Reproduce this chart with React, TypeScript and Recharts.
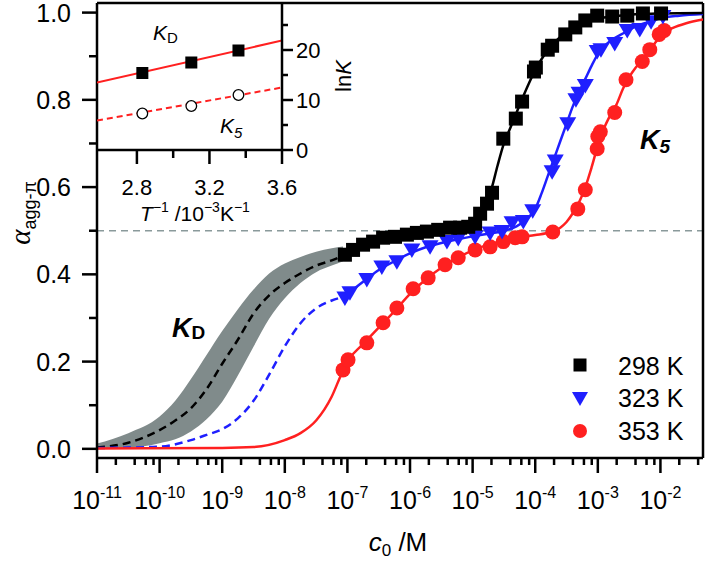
import React from 'react';
import {
  ComposedChart, Line, Scatter, Area, XAxis, YAxis, ReferenceLine,
} from 'recharts';

// x values are log10(c0 / M), y values are alpha_agg-pi
const black298: [number, number][] = [
  [-7.04, 0.445], [-6.91, 0.456], [-6.75, 0.468], [-6.59, 0.475], [-6.43, 0.484], [-6.24, 0.486],
  [-6.05, 0.491], [-5.89, 0.495], [-5.73, 0.498], [-5.55, 0.502], [-5.36, 0.507], [-5.2, 0.507],
  [-5.07, 0.509], [-4.96, 0.516], [-4.88, 0.539], [-4.77, 0.562], [-4.69, 0.587], [-4.51, 0.711],
  [-4.31, 0.757], [-4.21, 0.796], [-4.02, 0.865], [-3.99, 0.874], [-3.8, 0.915], [-3.73, 0.924],
  [-3.52, 0.95], [-3.36, 0.966], [-3.2, 0.982], [-3.01, 0.993], [-2.77, 0.991], [-2.53, 0.993],
  [-2.28, 0.998], [-1.99, 0.998],
];
const blue323: [number, number][] = [
  [-7.04, 0.346], [-6.96, 0.358], [-6.69, 0.388], [-6.45, 0.417], [-6.21, 0.429], [-5.97, 0.456],
  [-5.68, 0.463], [-5.41, 0.475], [-5.23, 0.482], [-4.96, 0.486], [-4.72, 0.495], [-4.53, 0.498],
  [-4.37, 0.518], [-4.19, 0.521], [-4.04, 0.546], [-3.73, 0.635], [-3.68, 0.66], [-3.48, 0.745],
  [-3.35, 0.8], [-3.3, 0.815], [-3.2, 0.833], [-3.01, 0.911], [-2.95, 0.915], [-2.73, 0.929],
  [-2.53, 0.959], [-2.33, 0.961], [-2.15, 0.979], [-1.96, 0.991],
];
const red353: [number, number][] = [
  [-7.07, 0.181], [-6.99, 0.204], [-6.69, 0.243], [-6.43, 0.289], [-6.21, 0.323], [-5.95, 0.367],
  [-5.71, 0.392], [-5.44, 0.422], [-5.23, 0.438], [-4.96, 0.456], [-4.72, 0.463], [-4.51, 0.475],
  [-4.32, 0.484], [-4.21, 0.486], [-3.72, 0.497], [-3.32, 0.55], [-3.2, 0.594], [-3.01, 0.688],
  [-3.0, 0.716], [-2.96, 0.727], [-2.73, 0.771], [-2.55, 0.846], [-2.29, 0.888], [-2.17, 0.915],
  [-2.02, 0.95], [-1.94, 0.959],
];

// fitted curves
const blackFitDashed: [number, number][] = [
  [-11, 0.003], [-10.5, 0.014], [-10, 0.043], [-9.75, 0.065], [-9.5, 0.093], [-9.25, 0.137],
  [-9, 0.195], [-8.75, 0.25], [-8.5, 0.31], [-8.25, 0.352], [-8, 0.38], [-7.75, 0.402],
  [-7.5, 0.42], [-7.25, 0.432], [-7.07, 0.443],
];
const blackFitSolid: [number, number][] = [
  [-7.07, 0.443], [-6.75, 0.466], [-6.5, 0.477], [-6.25, 0.485], [-6, 0.492], [-5.75, 0.497],
  [-5.5, 0.502], [-5.25, 0.506], [-5.1, 0.509], [-5, 0.513], [-4.9, 0.525], [-4.8, 0.553],
  [-4.7, 0.595], [-4.6, 0.65], [-4.5, 0.7], [-4.4, 0.735], [-4.3, 0.77], [-4.2, 0.805],
  [-4.1, 0.838], [-4, 0.868], [-3.9, 0.893], [-3.8, 0.913], [-3.7, 0.93], [-3.6, 0.944],
  [-3.5, 0.955], [-3.4, 0.965], [-3.2, 0.978], [-3, 0.986], [-2.7, 0.992], [-2.4, 0.996],
  [-2, 0.998], [-1.32, 0.999],
];
const blueFitDashed: [number, number][] = [
  [-11, 0.002], [-10.5, 0.003], [-10, 0.005], [-9.5, 0.02], [-9.25, 0.032], [-9, 0.045],
  [-8.75, 0.07], [-8.5, 0.11], [-8.25, 0.17], [-8, 0.235], [-7.75, 0.288], [-7.5, 0.322],
  [-7.25, 0.34], [-7.05, 0.349],
];
const blueFitSolid: [number, number][] = [
  [-7.05, 0.349], [-6.75, 0.383], [-6.5, 0.41], [-6.25, 0.43], [-6, 0.448], [-5.75, 0.462],
  [-5.5, 0.472], [-5.25, 0.48], [-5, 0.487], [-4.75, 0.493], [-4.5, 0.5], [-4.3, 0.51],
  [-4.15, 0.525], [-4, 0.55], [-3.9, 0.585], [-3.8, 0.625], [-3.7, 0.665], [-3.6, 0.705],
  [-3.5, 0.745], [-3.4, 0.785], [-3.3, 0.818], [-3.2, 0.848], [-3.1, 0.878], [-3, 0.905],
  [-2.8, 0.935], [-2.6, 0.952], [-2.4, 0.968], [-2.2, 0.978], [-2, 0.987], [-1.7, 0.993],
  [-1.32, 0.997],
];
const redFit: [number, number][] = [
  [-11, 0.001], [-9, 0.002], [-8.5, 0.004], [-8, 0.02], [-7.75, 0.036], [-7.5, 0.065],
  [-7.25, 0.12], [-7.1, 0.17], [-7, 0.2], [-6.75, 0.24], [-6.5, 0.278], [-6.25, 0.315],
  [-6, 0.355], [-5.75, 0.388], [-5.5, 0.415], [-5.25, 0.437], [-5, 0.455], [-4.75, 0.468],
  [-4.5, 0.477], [-4.25, 0.485], [-4, 0.49], [-3.75, 0.497], [-3.6, 0.507], [-3.5, 0.52],
  [-3.4, 0.54], [-3.3, 0.565], [-3.2, 0.6], [-3.1, 0.645], [-3, 0.695], [-2.9, 0.735],
  [-2.8, 0.765], [-2.7, 0.79], [-2.6, 0.825], [-2.5, 0.852], [-2.4, 0.873], [-2.3, 0.89],
  [-2.2, 0.908], [-2.1, 0.928], [-2, 0.945], [-1.9, 0.958], [-1.8, 0.965], [-1.6, 0.975],
  [-1.32, 0.984],
];
// uncertainty band of the 298 K K_D curve: [x, low, high]
const kdBand: [number, number, number][] = [
  [-11, 0, 0.012], [-10.5, 0.002, 0.036], [-10, 0.013, 0.074], [-9.75, 0.022, 0.11],
  [-9.5, 0.04, 0.16], [-9.25, 0.068, 0.215], [-9, 0.108, 0.27], [-8.75, 0.168, 0.32],
  [-8.5, 0.234, 0.365], [-8.25, 0.298, 0.402], [-8, 0.345, 0.425], [-7.75, 0.38, 0.44],
  [-7.5, 0.405, 0.452], [-7.25, 0.42, 0.46], [-7.07, 0.43, 0.464],
];

const X_MAJOR = [-11, -10, -9, -8, -7, -6, -5, -4, -3, -2];
const X_MINOR_MULT = [2, 4, 6, 8];
const Y_TICKS = [0, 0.1, 0.2, 0.3, 0.4, 0.5, 0.6, 0.7, 0.8, 0.9, 1.0];

// inset: ln K against 1/T
const insetT = [2.83, 3.1, 3.36];
const insetLnKD = [15.4, 17.5, 19.9];
const insetLnK5 = [7.3, 8.8, 11.0];
const insetFitKD: [number, number][] = [[2.58, 13.5], [3.6, 21.9]];
const insetFitK5: [number, number][] = [[2.58, 5.9], [3.6, 12.5]];
const INSET_X_TICKS = [2.8, 3.0, 3.2, 3.4, 3.6];
const INSET_X_MAJOR = [2.8, 3.2, 3.6];
const INSET_Y_TICKS = [0, 5, 10, 15, 20, 25];

const FONT = '"Liberation Sans", Arial, Helvetica, sans-serif';
const BLUE = '#1f1fff';
const RED = '#ff2020';
const BAND = '#808b8b';

const pts = (a: [number, number][]) => a.map(([x, y]) => ({ x, y }));

const xMinor: number[] = [];
X_MAJOR.forEach(d => X_MINOR_MULT.forEach(m => {
  const v = d + Math.log10(m);
  if (v < -1.32) xMinor.push(v);
}));
const xTicks = [...X_MAJOR, ...xMinor].sort((a, b) => a - b);

const MainXTick = (props: any) => {
  const { x, y, payload } = props;
  const v = payload.value;
  const major = X_MAJOR.includes(v);
  return (
    <g>
      <line x1={x} x2={x} y1={y} y2={y + (major ? 15 : 7)} stroke="#000" strokeWidth={2.5} />
      {major && (
        <text x={x} y={y + 51} textAnchor="middle" fontSize={25} fontFamily={FONT} fill="#000">
          10<tspan dy={-11} fontSize={16}>{`-${-v}`}</tspan>
        </text>
      )}
    </g>
  );
};

const MainYTick = (props: any) => {
  const { x, y, payload } = props;
  const v = payload.value;
  const major = Math.round(v * 10) % 2 === 0;
  return (
    <g>
      <line x1={x - (major ? 15 : 8)} x2={x} y1={y} y2={y} stroke="#000" strokeWidth={2.5} />
      {major && (
        <text x={x - 26} y={y} dy="0.36em" textAnchor="end" fontSize={25} fontFamily={FONT} fill="#000">
          {v.toFixed(1)}
        </text>
      )}
    </g>
  );
};

const InsetXTick = (props: any) => {
  const { x, y, payload } = props;
  const v = payload.value;
  const major = INSET_X_MAJOR.includes(v);
  return (
    <g>
      <line x1={x} x2={x} y1={y} y2={y + (major ? 14 : 8)} stroke="#000" strokeWidth={2.5} />
      {major && (
        <text x={x} y={y + 45} textAnchor="middle" fontSize={22} fontFamily={FONT} fill="#000">
          {v.toFixed(1)}
        </text>
      )}
    </g>
  );
};

const InsetYTick = (props: any) => {
  const { x, y, payload } = props;
  const v = payload.value;
  const major = v % 10 === 0;
  return (
    <g>
      <line x1={x} x2={x + (major ? 11 : 6)} y1={y} y2={y} stroke="#000" strokeWidth={2.5} />
      {major && (
        <text x={x + 14} y={y} dy="0.36em" textAnchor="start" fontSize={22} fontFamily={FONT} fill="#000">
          {v}
        </text>
      )}
    </g>
  );
};

const SquareMark = (p: any) => <rect x={p.cx - 7} y={p.cy - 7} width={14} height={14} fill="#000" />;
const TriMark = (p: any) => (
  <path d={`M${p.cx - 8.5},${p.cy - 6.5} L${p.cx + 8.5},${p.cy - 6.5} L${p.cx},${p.cy + 8} Z`} fill={BLUE} />
);
const CircleMark = (p: any) => <circle cx={p.cx} cy={p.cy} r={7.5} fill={RED} />;
const InsetSquare = (p: any) => <rect x={p.cx - 6} y={p.cy - 6} width={12} height={12} fill="#000" />;
const InsetCircle = (p: any) => <circle cx={p.cx} cy={p.cy} r={5.3} fill="#fff" stroke="#000" strokeWidth={1.3} />;

const axisLine = { stroke: '#000', strokeWidth: 2.5 };

export default function App() {
  const bandData = kdBand.map(([x, lo, hi]) => ({ x, band: [lo, hi] }));
  const insetKD = insetT.map((t, i) => ({ x: t, y: insetLnKD[i] }));
  const insetK5 = insetT.map((t, i) => ({ x: t, y: insetLnK5[i] }));

  return (
    <div style={{ position: 'absolute', left: 0, top: 0, width: 708, height: 561, background: '#fff' }}>
      <div style={{ position: 'absolute', left: 0, top: 0 }}>
        <ComposedChart width={708} height={561} margin={{ top: 3, right: 5, left: 0, bottom: 0 }}>
          <XAxis
            type="number" dataKey="x" domain={[-11, -1.32]} allowDataOverflow
            ticks={xTicks} interval={0} tick={<MainXTick />} tickLine={false}
            tickSize={0} tickMargin={0} axisLine={axisLine} height={103}
          />
          <YAxis
            type="number" domain={[-0.021, 1.022]} allowDataOverflow
            ticks={Y_TICKS} interval={0} tick={<MainYTick />} tickLine={false}
            tickSize={0} tickMargin={0} axisLine={axisLine} width={97}
          />
          <Area
            data={bandData} dataKey="band" type="monotone" stroke="none"
            fill={BAND} fillOpacity={1} isAnimationActive={false} activeDot={false}
          />
          <ReferenceLine y={0.5} stroke="#8a9a9b" strokeWidth={1.5} strokeDasharray="7 5" />
          <ReferenceLine y={1.022} stroke="#000" strokeWidth={2.5} />
          <ReferenceLine x={-1.32} stroke="#000" strokeWidth={2.5} />
          <Line data={pts(blackFitDashed)} dataKey="y" type="monotone" stroke="#000" strokeWidth={2.5}
            strokeDasharray="8 5" dot={false} activeDot={false} isAnimationActive={false} />
          <Line data={pts(blueFitDashed)} dataKey="y" type="monotone" stroke={BLUE} strokeWidth={2.5}
            strokeDasharray="8 5" dot={false} activeDot={false} isAnimationActive={false} />
          <Line data={pts(redFit)} dataKey="y" type="monotone" stroke={RED} strokeWidth={2.5}
            dot={false} activeDot={false} isAnimationActive={false} />
          <Line data={pts(blueFitSolid)} dataKey="y" type="monotone" stroke={BLUE} strokeWidth={2.5}
            dot={false} activeDot={false} isAnimationActive={false} />
          <Line data={pts(blackFitSolid)} dataKey="y" type="monotone" stroke="#000" strokeWidth={2.5}
            dot={false} activeDot={false} isAnimationActive={false} />
          <Scatter data={pts(red353)} dataKey="y" shape={CircleMark} isAnimationActive={false} />
          <Scatter data={pts(blue323)} dataKey="y" shape={TriMark} isAnimationActive={false} />
          <Scatter data={pts(black298)} dataKey="y" shape={SquareMark} isAnimationActive={false} />
        </ComposedChart>
      </div>

      <div style={{ position: 'absolute', left: 0, top: 0 }}>
        <ComposedChart width={360} height={230} margin={{ top: 3, right: 0, left: 97, bottom: 0 }}>
          <XAxis
            type="number" dataKey="x" domain={[2.58, 3.6]} allowDataOverflow
            ticks={INSET_X_TICKS} interval={0} tick={<InsetXTick />} tickLine={false}
            tickSize={0} tickMargin={0} axisLine={axisLine} height={80}
          />
          <YAxis
            type="number" orientation="right" domain={[0, 29.4]} allowDataOverflow
            ticks={INSET_Y_TICKS} interval={0} tick={<InsetYTick />} tickLine={false}
            tickSize={0} tickMargin={0} axisLine={axisLine} width={78}
          />
          <Line data={pts(insetFitKD)} dataKey="y" type="linear" stroke={RED} strokeWidth={2}
            dot={false} activeDot={false} isAnimationActive={false} />
          <Line data={pts(insetFitK5)} dataKey="y" type="linear" stroke={RED} strokeWidth={2}
            strokeDasharray="6 4" dot={false} activeDot={false} isAnimationActive={false} />
          <Scatter data={insetKD} dataKey="y" shape={InsetSquare} isAnimationActive={false} />
          <Scatter data={insetK5} dataKey="y" shape={InsetCircle} isAnimationActive={false} />
        </ComposedChart>
      </div>

      <svg width={708} height={561} style={{ position: 'absolute', left: 0, top: 0, pointerEvents: 'none' }}
        fontFamily={FONT} fill="#000">
        {/* axis titles */}
        <text x={398} y={551} textAnchor="middle" fontSize={26}>
          <tspan fontStyle="italic">c</tspan>
          <tspan fontSize={17} dy={5}>0</tspan>
          <tspan dy={-5}> /M</tspan>
        </text>
        <text x={30} y={213} textAnchor="middle" transform="rotate(-90 30 213)">
          <tspan fontSize={29} fontStyle="italic" fontFamily='"Liberation Serif", "Times New Roman", serif'>α</tspan>
          <tspan fontSize={18} dy={6}>agg-π</tspan>
        </text>
        {/* inset titles */}
        <text x={195} y={221} textAnchor="middle" fontSize={21}>
          <tspan fontStyle="italic">T</tspan>
          <tspan fontSize={14} dy={-9}>−1</tspan>
          <tspan dy={9}> /10</tspan>
          <tspan fontSize={14} dy={-9}>−3</tspan>
          <tspan dy={9}>K</tspan>
          <tspan fontSize={14} dy={-9}>−1</tspan>
        </text>
        <text x={351} y={76} textAnchor="middle" fontSize={22} transform="rotate(-90 351 76)">
          ln<tspan fontStyle="italic">K</tspan>
        </text>
        <text x={153} y={40} fontSize={21}>
          <tspan fontStyle="italic">K</tspan>
          <tspan fontSize={15} dy={3}>D</tspan>
        </text>
        <text x={220} y={133} fontSize={21}>
          <tspan fontStyle="italic">K</tspan>
          <tspan fontSize={15} dy={5} fontStyle="italic">5</tspan>
        </text>
        {/* big labels in the main plot */}
        <text x={172} y={337} fontSize={27} fontWeight="bold">
          <tspan fontStyle="italic">K</tspan>
          <tspan fontSize={19} dy={2}>D</tspan>
        </text>
        <text x={640} y={149} fontSize={27} fontWeight="bold">
          <tspan fontStyle="italic">K</tspan>
          <tspan fontSize={19} dy={4} fontStyle="italic">5</tspan>
        </text>
        {/* legend */}
        <rect x={573.5} y={358.5} width={13} height={13} fill="#000" />
        <text x={618} y={366} dy="0.36em" fontSize={25}>298 K</text>
        <path d="M572,392 L588,392 L580,406 Z" fill={BLUE} />
        <text x={618} y={398} dy="0.36em" fontSize={25}>323 K</text>
        <circle cx={580} cy={431} r={7} fill={RED} />
        <text x={618} y={431} dy="0.36em" fontSize={25}>353 K</text>
      </svg>
    </div>
  );
}
